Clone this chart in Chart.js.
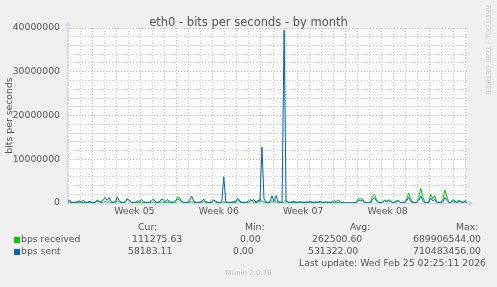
<!DOCTYPE html>
<html>
<head>
<meta charset="utf-8">
<script src="https://cdn.jsdelivr.net/npm/chart.js@4/dist/chart.umd.min.js"></script>
<style>
  html, body { margin: 0; padding: 0; background: #f0f0f0; }
  #wrap { position: relative; width: 497px; height: 287px; overflow: hidden; font-family: "DejaVu Sans", sans-serif; color: #555; }
  #chart { position: absolute; left: 0; top: 0; }
  .t { position: absolute; white-space: pre; font-size: 9.3px; line-height: 11px; }
  .sq { position: absolute; width: 6px; height: 6px; }
  #title { position: absolute; left: 0; width: 497px; top: 15px; text-align: center; font-size: 11.5px; line-height: 14px; color: #555; }
  #rrd { position: absolute; left: 484px; top: 5px; writing-mode: vertical-rl; font-size: 7px; color: #ccc; white-space: pre; }
  #munin { position: absolute; left: 0; width: 497px; top: 269px; text-align: center; font-size: 7px; color: #c0c0c0; }
</style>
</head>
<body>
<div id="wrap">
  <canvas id="chart" width="497" height="287"></canvas>
  <div id="title">eth0 - bits per seconds - by month</div>
  <div id="rrd">RRDTOOL / TOBI OETIKER</div>

  <div class="t" style="left:138px;top:221px">Cur:</div>
  <div class="t" style="left:245px;top:221px">Min:</div>
  <div class="t" style="left:350px;top:221px">Avg:</div>
  <div class="t" style="left:456px;top:221px">Max:</div>

  <div class="sq" style="left:14px;top:237px;background:#00cc00"></div>
  <div class="t" style="left:21px;top:233px">bps received</div>
  <div class="t" style="left:132px;top:233px">111275.63</div>
  <div class="t" style="left:240px;top:233px">0.00</div>
  <div class="t" style="left:312px;top:233px">262500.60</div>
  <div class="t" style="left:413px;top:233px">689906544.00</div>

  <div class="sq" style="left:14px;top:249px;background:#0066b3"></div>
  <div class="t" style="left:21px;top:245px">bps sent</div>
  <div class="t" style="left:128px;top:245px">58183.11</div>
  <div class="t" style="left:233px;top:245px">0.00</div>
  <div class="t" style="left:308px;top:245px">531322.00</div>
  <div class="t" style="left:413px;top:245px">710483456.00</div>

  <div class="t" style="left:299px;top:257px">Last update: Wed Feb 25 02:25:11 2026</div>
  <div id="munin">Munin 2.0.76</div>
</div>
<script>
// samples every 4 hours, hour 0 = start of Week 05
const startHour = -50;
const stepHours = 4;
const endHour = 746;

// bits per second, sent (blue)
const sent = [
  300000, 600000, 200000, 150000, 200000, 250000, 500000, 200000, 600000, 200000,
  150000, 400000, 200000, 150000, 200000, 500000, 300000, 200000, 800000, 1300000,
  600000, 1200000, 300000, 200000, 250000, 1400000, 500000, 200000, 150000, 300000,
  1000000, 600000, 200000, 150000, 200000, 500000, 300000, 800000, 300000, 200000,
  150000, 200000, 500000, 900000, 300000, 200000, 250000, 900000, 700000, 200000,
  800000, 300000, 200000, 250000, 600000, 900000, 700000, 300000, 200000, 150000,
  200000, 400000, 1600000, 500000, 200000, 150000, 200000, 300000, 900000, 300000,
  200000, 150000, 300000, 700000, 400000, 200000, 150000, 300000, 6000000, 300000,
  200000, 150000, 200000, 300000, 400000, 1100000, 400000, 200000, 150000, 200000,
  300000, 800000, 500000, 800000, 200000, 600000, 300000, 12800000, 1000000, 200000,
  150000, 300000, 1600000, 400000, 1700000, 300000, 200000, 200000, 39500000, 300000,
  200000, 200000, 250000, 400000, 200000, 200000, 250000, 200000, 200000, 250000,
  200000, 400000, 200000, 200000, 250000, 200000, 400000, 200000, 200000, 250000,
  200000, 200000, 300000, 500000, 300000, 700000, 200000, 50000, 50000, 50000,
  50000, 50000, 50000, 100000, 200000, 600000, 500000, 600000, 200000, 100000,
  50000, 100000, 800000, 1200000, 400000, 100000, 100000, 200000, 500000, 300000,
  500000, 300000, 100000, 100000, 400000, 400000, 100000, 50000, 100000, 500000,
  1300000, 500000, 100000, 50000, 100000, 600000, 1600000, 600000, 100000, 100000,
  200000, 1100000, 500000, 800000, 200000, 100000, 100000, 300000, 1200000, 600000,
  100000, 100000, 500000, 300000, 100000, 400000, 200000, 100000, 400000, 100000
];

// bits per second, received (green)
const received = [
  100000, 300000, 100000, 100000, 100000, 100000, 150000, 100000, 150000, 100000,
  100000, 100000, 100000, 100000, 100000, 700000, 400000, 100000, 200000, 300000,
  200000, 300000, 100000, 100000, 100000, 500000, 200000, 100000, 100000, 100000,
  900000, 500000, 100000, 100000, 100000, 150000, 100000, 200000, 100000, 100000,
  100000, 100000, 150000, 250000, 100000, 100000, 100000, 250000, 200000, 100000,
  200000, 100000, 100000, 100000, 200000, 1400000, 1200000, 400000, 100000, 100000,
  100000, 100000, 300000, 150000, 100000, 100000, 100000, 100000, 400000, 100000,
  100000, 100000, 100000, 500000, 200000, 100000, 100000, 100000, 300000, 100000,
  100000, 100000, 100000, 100000, 100000, 600000, 200000, 100000, 100000, 100000,
  100000, 300000, 700000, 200000, 100000, 200000, 900000, 400000, 200000, 100000,
  100000, 100000, 500000, 200000, 300000, 100000, 100000, 100000, 200000, 600000,
  100000, 100000, 100000, 100000, 100000, 100000, 100000, 100000, 100000, 100000,
  100000, 100000, 100000, 100000, 100000, 100000, 100000, 100000, 100000, 100000,
  100000, 100000, 100000, 100000, 100000, 150000, 100000, 50000, 50000, 50000,
  50000, 50000, 50000, 50000, 100000, 1000000, 900000, 1000000, 200000, 100000,
  50000, 100000, 1600000, 2000000, 800000, 100000, 100000, 200000, 700000, 500000,
  700000, 600000, 100000, 100000, 600000, 600000, 100000, 50000, 100000, 900000,
  2300000, 1000000, 100000, 50000, 100000, 1200000, 3400000, 1500000, 100000, 100000,
  200000, 2000000, 1000000, 1600000, 200000, 100000, 100000, 800000, 3000000, 1400000,
  100000, 100000, 800000, 500000, 100000, 700000, 300000, 100000, 600000, 100000
];

const weekTicks = [84, 252, 420, 588];
const weekLabels = ['Week 05', 'Week 06', 'Week 07', 'Week 08'];
const yMax = 40000000;
const yStep = 2000000;
const yLabelStep = 10000000;

const sampleHours = sent.map((_, i) => startHour + i * stepHours);
const toPoints = arr => arr.map((v, i) => ({ x: sampleHours[i], y: v }));

const axisColor = '#cfd6f8';
const majorGrid = 'rgba(226,120,120,0.65)';
const minorGrid = 'rgba(150,150,150,0.5)';
const tickFont = { family: 'DejaVu Sans', size: 9.3 };

// white canvas area + axis arrows
const munPlugin = {
  id: 'munPlugin',
  beforeDraw(chart) {
    const { ctx, chartArea: a } = chart;
    ctx.save();
    ctx.fillStyle = '#ffffff';
    ctx.fillRect(a.left, a.top, a.right - a.left, a.bottom - a.top);
    ctx.restore();
  },
  afterDraw(chart) {
    const { ctx, chartArea: a } = chart;
    ctx.save();
    ctx.strokeStyle = axisColor;
    ctx.fillStyle = axisColor;
    ctx.lineWidth = 1;
    ctx.beginPath();
    ctx.moveTo(a.left + 0.5, a.bottom);
    ctx.lineTo(a.left + 0.5, a.top - 4);
    ctx.moveTo(a.left, a.bottom + 0.5);
    ctx.lineTo(a.right + 4, a.bottom + 0.5);
    ctx.stroke();
    ctx.beginPath();
    ctx.moveTo(a.left - 2.5, a.top - 2);
    ctx.lineTo(a.left + 3.5, a.top - 2);
    ctx.lineTo(a.left + 0.5, a.top - 7);
    ctx.closePath();
    ctx.fill();
    ctx.beginPath();
    ctx.moveTo(a.right + 2, a.bottom - 2.5);
    ctx.lineTo(a.right + 2, a.bottom + 3.5);
    ctx.lineTo(a.right + 7, a.bottom + 0.5);
    ctx.closePath();
    ctx.fill();
    ctx.restore();
  }
};

new Chart(document.getElementById('chart'), {
  type: 'line',
  data: {
    datasets: [{
      label: 'bps sent',
      data: toPoints(sent),
      borderColor: '#0066b3',
      borderWidth: 1,
      pointRadius: 0,
      tension: 0
    }, {
      label: 'bps received',
      data: toPoints(received),
      borderColor: '#00cc00',
      borderWidth: 1,
      pointRadius: 0,
      tension: 0
    }]
  },
  options: {
    responsive: false,
    animation: false,
    layout: { padding: { top: 28, right: 30, left: 0, bottom: 0 } },
    plugins: {
      legend: { display: false },
      tooltip: { enabled: false },
      title: { display: false }
    },
    scales: {
      x: {
        type: 'linear',
        position: 'bottom',
        min: startHour,
        max: endHour,
        afterBuildTicks: scale => {
          const t = [];
          for (let h = -48; h <= endHour; h += 24) t.push({ value: h });
          scale.ticks = t;
        },
        afterFit: scale => { scale.height = 0; },
        ticks: { display: false },
        grid: {
          drawTicks: false,
          color: ctx => (ctx.tick && ctx.tick.value % 168 === 0) ? majorGrid : minorGrid
        },
        border: { display: false, dash: [1, 2] }
      },
      x2: {
        type: 'linear',
        position: 'bottom',
        min: startHour,
        max: endHour,
        afterBuildTicks: scale => {
          scale.ticks = weekTicks.map(v => ({ value: v }));
        },
        afterFit: scale => { scale.height = 84; },
        ticks: {
          autoSkip: false,
          maxRotation: 0,
          padding: 3,
          color: '#555',
          font: tickFont,
          callback: (v, i) => weekLabels[i]
        },
        grid: { display: false, drawTicks: false },
        border: { display: false }
      },
      y: {
        min: 0,
        max: yMax,
        afterFit: scale => { scale.width = 67; },
        ticks: {
          stepSize: yStep,
          autoSkip: false,
          padding: 7,
          color: '#555',
          font: tickFont,
          callback: v => (v % yLabelStep === 0 ? String(v) : '')
        },
        grid: {
          drawTicks: false,
          color: ctx => (ctx.tick && ctx.tick.value % yLabelStep === 0) ? majorGrid : minorGrid
        },
        border: { display: false, dash: [1, 2] },
        title: {
          display: true,
          text: 'bits per seconds',
          color: '#555',
          font: tickFont,
          padding: { top: 4, bottom: 0 }
        }
      }
    }
  },
  plugins: [munPlugin]
});
</script>
</body>
</html>
